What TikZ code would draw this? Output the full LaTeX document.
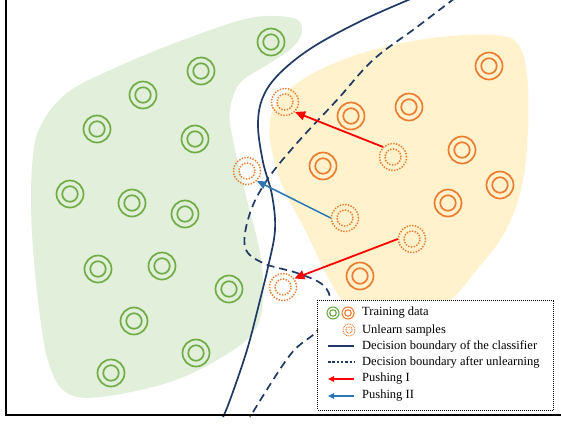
\documentclass[tikz,border=0pt]{standalone}
\usepackage{fontspec}
\setmainfont{Liberation Serif}
\usetikzlibrary{arrows.meta}
\definecolor{tgreen}{HTML}{70AD47}
\definecolor{torange}{HTML}{ED7D31}
\definecolor{bgreen}{HTML}{E2EFDA}
\definecolor{borange}{HTML}{FFF2CC}
\definecolor{navy}{HTML}{1F3864}
\definecolor{pblue}{HTML}{2E75B6}
\definecolor{pred}{HTML}{FF0000}
\begin{document}
\begin{tikzpicture}[x=1pt,y=-1pt,
  ring/.style={circle, draw=#1, line width=1.7pt, minimum size=27pt, inner sep=0pt,
    label={[circle, draw=#1, line width=1.7pt, minimum size=15.5pt, inner sep=0pt]center:}},
  uring/.style={circle, draw=torange, line width=1.5pt, dash pattern=on 1.4pt off 1.4pt,
    minimum size=27pt, inner sep=0pt,
    label={[circle, draw=torange, line width=1.5pt, dash pattern=on 1.4pt off 1.4pt, minimum size=16pt, inner sep=0pt]center:}},
  sring/.style={circle, draw=#1, line width=1.1pt, minimum size=12pt, inner sep=0pt,
    label={[circle, draw=#1, line width=1.1pt, minimum size=6.5pt, inner sep=0pt]center:}},
  suring/.style={circle, draw=torange, line width=1pt, dash pattern=on 0.9pt off 0.9pt,
    minimum size=12pt, inner sep=0pt,
    label={[circle, draw=torange, line width=1pt, dash pattern=on 0.9pt off 0.9pt, minimum size=6.5pt, inner sep=0pt]center:}},
  boundary/.style={navy, line width=1.7pt},
  dboundary/.style={navy, line width=1.7pt, dash pattern=on 8pt off 5pt},
  redpush/.style={pred, line width=1.8pt, -{Triangle[length=10pt,width=9pt]}},
  bluepush/.style={pblue, line width=1.5pt, -{Triangle[length=9pt,width=8pt]}},
  legtext/.style={anchor=west, inner sep=0pt, font=\fontsize{12.5}{15}\selectfont},
]
\useasboundingbox (0,0) rectangle (561,424);
% blobs
\fill[bgreen] plot[smooth cycle, tension=0.6] coordinates {(293,18) (302,30) (293,47) (267,65) (240,83) (230,110) (233,140) (247,200) (260,253) (263,300) (253,333) (217,360) (167,383) (100,397) (67,393) (50,367) (40,317) (32,233) (32,167) (40,127) (67,93) (117,67) (183,40) (250,18)};
\fill[borange] plot[smooth cycle, tension=0.6] coordinates {(270,140) (273,110) (292,87) (330,65) (380,48) (440,37) (495,35) (518,44) (527,75) (528,130) (522,185) (505,232) (475,272) (445,305) (400,330) (360,320) (335,290) (305,230) (282,185)};
% boundaries
\draw[boundary] plot[smooth, tension=0.6] coordinates {(413,-2) (363,20) (313,47) (280,73) (263,97) (258,125) (263,162) (272,195) (275,230) (268,267) (260,300) (247,350) (230,400) (223,417)};
\draw[dboundary] plot[smooth, tension=0.6] coordinates {(455,-2) (417,27) (373,60) (337,100) (297,143) (267,180) (250,213) (245,247) (263,263) (297,273) (323,285) (330,303) (318,330) (290,355) (250,417)};
% training data (green)
\node[ring=tgreen] (g1) at (271,42) {};
\node[ring=tgreen] (g2) at (201,71) {};
\node[ring=tgreen] (g3) at (143,95) {};
\node[ring=tgreen] (g4) at (97,129) {};
\node[ring=tgreen] (g5) at (195,139) {};
\node[ring=tgreen] (g6) at (70,194) {};
\node[ring=tgreen] (g7) at (132,203) {};
\node[ring=tgreen] (g8) at (185,214) {};
\node[ring=tgreen] (g9) at (98,269) {};
\node[ring=tgreen] (g10) at (162,266) {};
\node[ring=tgreen] (g11) at (229,289) {};
\node[ring=tgreen] (g12) at (134,321) {};
\node[ring=tgreen] (g13) at (196,353) {};
\node[ring=tgreen] (g14) at (111,373) {};
% training data (orange)
\node[ring=torange] (o1) at (489,66) {};
\node[ring=torange] (o2) at (409,107) {};
\node[ring=torange] (o3) at (351,116) {};
\node[ring=torange] (o4) at (462,150) {};
\node[ring=torange] (o5) at (323,166) {};
\node[ring=torange] (o6) at (500,185) {};
\node[ring=torange] (o7) at (448,203) {};
\node[ring=torange] (o8) at (360,276) {};
% unlearn samples
\node[uring] (u1) at (285,102) {};
\node[uring] (u2) at (393,157) {};
\node[uring] (u4) at (247,171) {};
\node[uring] (u3) at (345,218) {};
\node[uring] (u5) at (412,239) {};
\node[uring] (u6) at (283,287) {};
% pushing arrows
\draw[redpush] (u2.north west) -- (u1.south east);
\draw[bluepush] (u3.west) -- (u4.south east);
\draw[redpush] (u5.west) -- (u6.37);
% axes
\draw[line width=1.8pt] (6,0) -- (6,415) -- (561,415);
% legend
\node[draw=black, line width=0.8pt, dash pattern=on 1pt off 1pt, fill=white, minimum width=236pt, minimum height=110pt, inner sep=0pt] (leg) at (435.5,355) {};
\node[sring=tgreen] (lg) at (333,313) {};
\node[sring=torange] (lo) at (348,313) {};
\node[suring] (lu) at (349,330) {};
\node[legtext] (t1) at (362,313) {Training data};
\node[legtext] (t2) at (362,330) {Unlearn samples};
\node[legtext] (t3) at (362,346) {Decision boundary of the classifier};
\node[legtext] (t4) at (362,362) {Decision boundary after unlearning};
\node[legtext] (t5) at (362,379) {Pushing I};
\node[legtext] (t6) at (362,396) {Pushing II};
\coordinate (l3a) at (328,346); \coordinate (l3b) at (354,346);
\coordinate (l4a) at (328,362); \coordinate (l4b) at (354,362);
\coordinate (l5a) at (328,379); \coordinate (l5b) at (354,379);
\coordinate (l6a) at (328,396); \coordinate (l6b) at (354,396);
\draw[navy, line width=1.1pt] (l3a) -- (l3b);
\draw[navy, line width=1.1pt, dash pattern=on 2.5pt off 1.8pt] (l4a) -- (l4b);
\draw[pred, line width=1.2pt, -{Triangle[length=6pt,width=5.5pt]}] (l5b) -- (l5a);
\draw[pblue, line width=1.2pt, -{Triangle[length=6pt,width=5.5pt]}] (l6b) -- (l6a);
\end{tikzpicture}
\end{document}
